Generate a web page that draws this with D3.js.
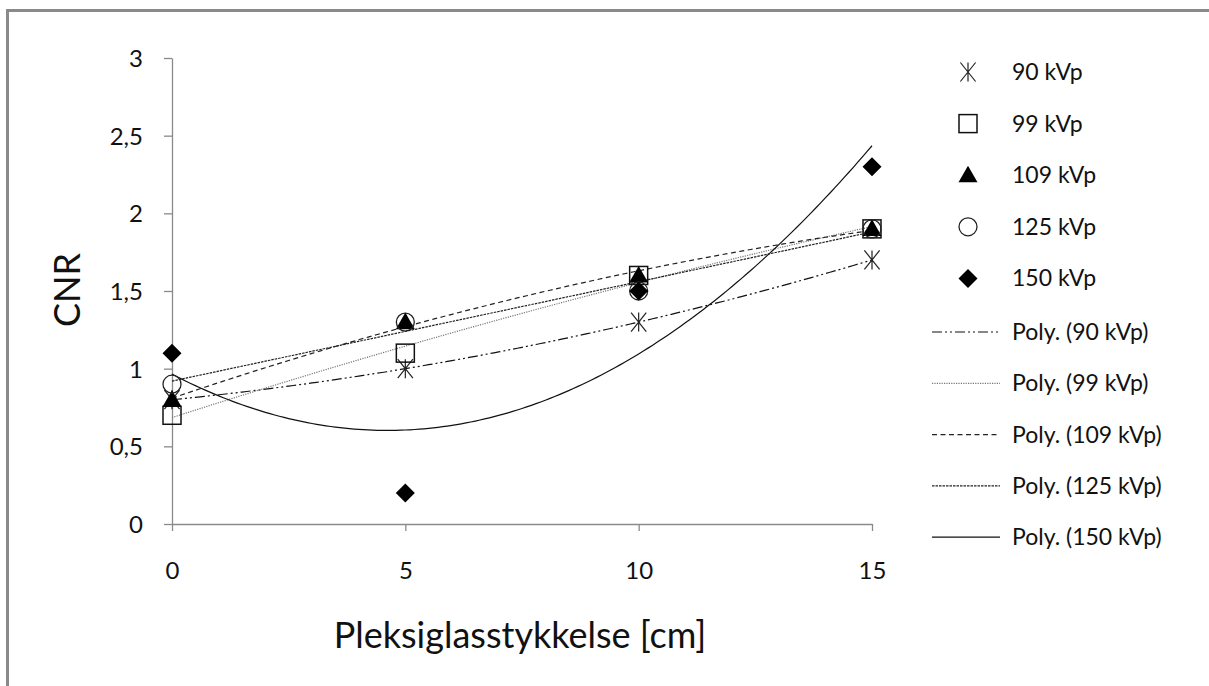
<!DOCTYPE html>
<html><head><meta charset="utf-8">
<script src="https://cdn.jsdelivr.net/npm/d3@7"></script>
<style>body{margin:0;background:#fff}svg{display:block}text{font-family:Lato,"Liberation Sans",sans-serif;fill:#111}</style>
</head><body><svg id="c" width="1209" height="686"></svg>
<script>
const xs = [0, 5, 10, 15];
const seriesNames = ["90 kVp", "99 kVp", "109 kVp", "125 kVp", "150 kVp"];
const v90  = [0.8, 1.0, 1.3, 1.7];
const v99  = [0.7, 1.1, 1.6, 1.9];
const v109 = [0.8, 1.3, 1.6, 1.9];
const v125 = [0.9, 1.3, 1.5, 1.9];
const v150 = [1.1, 0.2, 1.5, 2.3];
const xTicks = [0, 5, 10, 15];
const yTicks = [0, 0.5, 1, 1.5, 2, 2.5, 3];
const xTitle = "Pleksiglasstykkelse [cm]";
const yTitle = "CNR";

const allVals = [v90, v99, v109, v125, v150];
const markers = ["asterisk", "square", "triangle", "circle", "diamond"];
const dashes = ["10,3,2,3,2,3", "1.2,1.2", "5,3.5", "2.5,1", null];
const lineColors = ["#111", "#777", "#222", "#222", "#111"];

const svg = d3.select("#c");
svg.append("path").attr("d","M7.5,686 L7.5,10.5 L1209,10.5").attr("fill","none").attr("stroke","#8a8a8a").attr("stroke-width",3);

const x = d3.scaleLinear().domain([0,15]).range([172,872]);
const y = d3.scaleLinear().domain([0,3]).range([524,58]);

const gx = svg.append("g").attr("transform","translate(0,524)")
  .call(d3.axisBottom(x).tickValues(xTicks).tickSize(7).tickSizeOuter(0).tickFormat(d3.format("d")));
const gy = svg.append("g").attr("transform","translate(172,0)")
  .call(d3.axisLeft(y).tickValues(yTicks).tickSize(8).tickSizeOuter(0).tickPadding(21).tickFormat(d => String(d).replace(".", ",")));
[gx, gy].forEach(g => {
  g.attr("font-size", 24).attr("font-family","Lato, sans-serif");
  g.select(".domain").attr("stroke","#8a8a8a").attr("stroke-width",1.3);
  g.selectAll(".tick line").attr("stroke","#8a8a8a").attr("stroke-width",1.3);
  g.selectAll(".tick text").attr("font-size",24).attr("fill","#111");
});
gx.selectAll(".tick text").attr("y",47).attr("dy","0.35em");
gy.selectAll(".tick text").attr("dy","0.35em");

function polyFit(X, Y) {
  let S = [[0,0,0],[0,0,0],[0,0,0]], b = [0,0,0];
  X.forEach((xv,i) => {
    const p = [1, xv, xv*xv];
    for (let r=0;r<3;r++){ b[r]+=p[r]*Y[i]; for(let c=0;c<3;c++) S[r][c]+=p[r]*p[c]; }
  });
  const A = S.map((row,i)=>row.concat([b[i]]));
  for (let i=0;i<3;i++){
    let m=i; for(let k=i+1;k<3;k++) if(Math.abs(A[k][i])>Math.abs(A[m][i])) m=k;
    [A[i],A[m]]=[A[m],A[i]];
    for(let k=i+1;k<3;k++){const f=A[k][i]/A[i][i]; for(let c=i;c<4;c++) A[k][c]-=f*A[i][c];}
  }
  const co=[0,0,0];
  for(let i=2;i>=0;i--){let s=A[i][3]; for(let c=i+1;c<3;c++) s-=A[i][c]*co[c]; co[i]=s/A[i][i];}
  return xv => co[0]+co[1]*xv+co[2]*xv*xv;
}

const line = d3.line().x(d=>x(d[0])).y(d=>y(d[1]));
const samples = d3.range(0, 15.0001, 0.1);
allVals.forEach((vals,i) => {
  const f = polyFit(xs, vals);
  svg.append("path").datum(samples.map(s=>[s,f(s)])).attr("d", line)
    .attr("fill","none").attr("stroke", lineColors[i]).attr("stroke-width", 1.2)
    .attr("stroke-dasharray", dashes[i]);
});

function drawMarker(g, type, cx, cy) {
  const s = 9.5;
  if (type==="asterisk") {
    g.append("path").attr("d",`M${cx-s*0.8},${cy-s} L${cx+s*0.8},${cy+s} M${cx+s*0.8},${cy-s} L${cx-s*0.8},${cy+s} M${cx},${cy-s} L${cx},${cy+s}`)
      .attr("stroke","#222").attr("stroke-width",1.2).attr("fill","none");
  } else if (type==="square") {
    g.append("rect").attr("x",cx-s+0.5).attr("y",cy-s+0.5).attr("width",2*s-1).attr("height",2*s-1)
      .attr("fill","none").attr("stroke","#111").attr("stroke-width",1.5);
  } else if (type==="triangle") {
    g.append("path").attr("d",`M${cx},${cy-s} L${cx+s},${cy+s*0.75} L${cx-s},${cy+s*0.75} Z`).attr("fill","#000");
  } else if (type==="circle") {
    g.append("circle").attr("cx",cx).attr("cy",cy).attr("r",s-0.5).attr("fill","none").attr("stroke","#222").attr("stroke-width",1.3);
  } else if (type==="diamond") {
    g.append("path").attr("d",`M${cx},${cy-s} L${cx+s},${cy} L${cx},${cy+s} L${cx-s},${cy} Z`).attr("fill","#000");
  }
}

const mg = svg.append("g");
allVals.forEach((vals,i) => {
  vals.forEach((v,j) => drawMarker(mg, markers[i], x(xs[j]), y(v)));
});

const lg = svg.append("g");
seriesNames.forEach((n,i) => {
  const ly = 72 + i*51.6;
  drawMarker(lg, markers[i], 968, ly);
  lg.append("text").attr("x",1012).attr("y",ly).attr("dy","0.35em").attr("font-size",23).text(n);
});
seriesNames.forEach((n,i) => {
  const ly = 332 + i*51.3;
  lg.append("line").attr("x1",932).attr("x2",1000).attr("y1",ly).attr("y2",ly)
    .attr("stroke", lineColors[i]).attr("stroke-width",1.2).attr("stroke-dasharray", dashes[i]);
  lg.append("text").attr("x",1012).attr("y",ly).attr("dy","0.35em").attr("font-size",23).text("Poly. (" + n + ")");
});

svg.append("text").attr("x",520).attr("y",635).attr("dy","0.35em").attr("text-anchor","middle").attr("font-size",36).text(xTitle);
svg.append("text").attr("transform","translate(67,290) rotate(-90)").attr("dy","0.35em").attr("text-anchor","middle").attr("font-size",36).text(yTitle);
</script></body></html>
